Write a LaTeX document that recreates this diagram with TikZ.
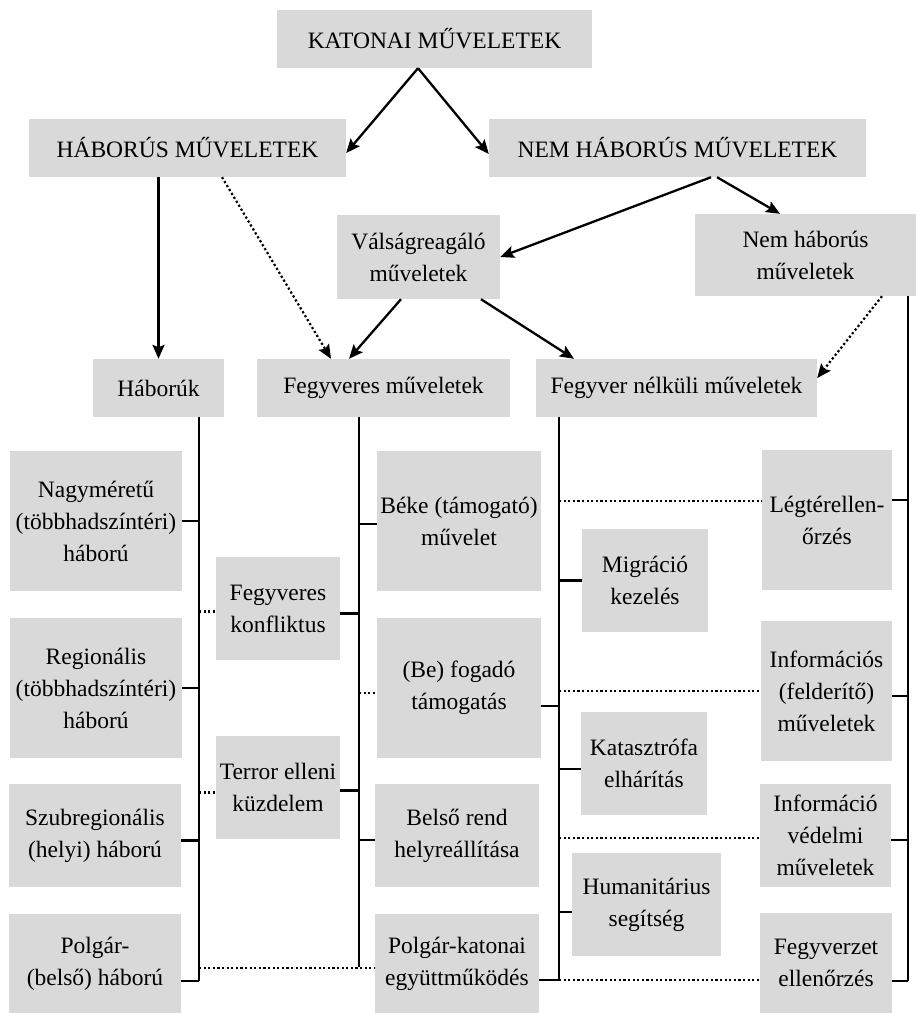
\documentclass[tikz,border=0pt]{standalone}
\usepackage{fontspec}
\setmainfont{Liberation Serif}
\usetikzlibrary{arrows.meta}
\definecolor{boxgray}{RGB}{217,217,217}
\tikzset{
  box/.style={fill=boxgray, draw=none, inner sep=0pt, align=center, text=black,
    font=\fontsize{23.5}{32}\selectfont},
  ln/.style={line width=2.3pt, black},
  dl/.style={line width=2.2pt, black, dash pattern=on 2.2pt off 2.4pt},
  arr/.style={-{Stealth[length=14pt,width=12pt,inset=2.5pt]}},
}
\begin{document}
\begin{tikzpicture}[x=1pt,y=-1pt]
\useasboundingbox (0,0) rectangle (916,1013);
% top levels
\node[box, minimum width=315, minimum height=58] (kat) at (434.5,39) {KATONAI MŰVELETEK};
\node[box, minimum width=317, minimum height=58] (hab) at (187.5,148) {HÁBORÚS MŰVELETEK};
\node[box, minimum width=377, minimum height=58] (nem) at (677.5,148) {NEM HÁBORÚS MŰVELETEK};
\node[box, minimum width=163, minimum height=84] (val) at (418.5,257) {Válságreagáló\\műveletek};
\node[box, minimum width=221, minimum height=82] (nhm) at (805.5,255) {Nem háborús\\műveletek};
\node[box, minimum width=131, minimum height=58] (hbk) at (158.5,388) {Háborúk};
\node[box, minimum width=253, minimum height=58] (fgm) at (383.5,388) {Fegyveres műveletek};
\node[box, minimum width=281, minimum height=58] (fnm) at (676.5,388) {Fegyver nélküli műveletek};
% left column
\node[box, minimum width=172, minimum height=140] (nagy) at (96,521) {Nagyméretű\\(többhadszíntéri)\\háború};
\node[box, minimum width=172, minimum height=140] (reg) at (96,688) {Regionális\\(többhadszíntéri)\\háború};
\node[box, minimum width=172, minimum height=103] (szub) at (95,835.5) {Szubregionális\\(helyi) háború};
\node[box, minimum width=172, minimum height=99] (polg) at (95,963.5) {Polgár-\\(belső) háború};
% second column
\node[box, minimum width=124, minimum height=103] (fk) at (278,608.5) {Fegyveres\\konfliktus};
\node[box, minimum width=124, minimum height=103] (tek) at (278,787.5) {Terror elleni\\küzdelem};
% third column
\node[box, minimum width=164, minimum height=140] (beke) at (459,521) {Béke (támogató)\\művelet};
\node[box, minimum width=164, minimum height=140] (befog) at (459,688) {(Be) fogadó\\támogatás};
\node[box, minimum width=164, minimum height=103] (belso) at (457,835.5) {Belső rend\\helyreállítása};
\node[box, minimum width=164, minimum height=99] (pk) at (457,963.5) {Polgár-katonai\\együttműködés};
% fourth column
\node[box, minimum width=126, minimum height=103] (mig) at (645,580.5) {Migráció\\kezelés};
\node[box, minimum width=126, minimum height=103] (kata) at (644,763.5) {Katasztrófa\\elhárítás};
\node[box, minimum width=149, minimum height=103] (hum) at (646.5,904.5) {Humanitárius\\segítség};
% right column
\node[box, minimum width=130, minimum height=140] (leg) at (827,520) {Légtérellen-\\őrzés};
\node[box, minimum width=131, minimum height=140] (inf) at (826.5,691) {Információs\\(felderítő)\\műveletek};
\node[box, minimum width=131, minimum height=103] (ivm) at (825.5,835.5) {Információ\\védelmi\\műveletek};
\node[box, minimum width=132, minimum height=100] (fe) at (826,963) {Fegyverzet\\ellenőrzés};

% arrows
\draw[ln,arr] ([xshift=-16.5pt]kat.south) -- ([yshift=-5pt]hab.east);
\draw[ln,arr] ([xshift=-16.5pt]kat.south) -- ([yshift=-6pt]nem.west);
\draw[ln,arr] (hbk.north |- hab.south) -- (hbk.north);
\draw[dl,arr] ([xshift=34.5pt]hab.south) -- ([xshift=-52.5pt]fgm.north);
\draw[ln,arr] ([xshift=33.5pt]nem.south) -- (val.east);
\draw[ln,arr] ([xshift=39.5pt]nem.south) -- ([xshift=-25.5pt]nhm.north);
\draw[ln,arr] ([xshift=-17.5pt]val.south) -- ([xshift=-34.5pt]fgm.north);
\draw[ln,arr] ([xshift=62.5pt]val.south) -- ([xshift=-102.5pt]fnm.north);
\draw[dl,arr] ([xshift=76.5pt]nhm.south) -- ([yshift=10pt]fnm.east);

% trunks
\coordinate (t1) at (199,981);
\coordinate (t2) at (359,967);
\coordinate (t3) at (559,980);
\coordinate (t4) at (908,981);
\draw[ln] (hbk.south -| t1) -- (t1);
\draw[ln] (fgm.south -| t2) -- (t2);
\draw[ln] (fnm.south -| t3) -- (t3);
\draw[ln] (nhm.south -| t4) -- (t4);

% tree 1
\draw[ln] (nagy.east) -- (nagy.east -| t1);
\draw[ln] (reg.east) -- (reg.east -| t1);
\draw[ln] ([yshift=-5pt]szub.east) -- ([yshift=-5pt]szub.east -| t1);
\draw[ln] (t1 -| polg.east) -- (t1);
\draw[dl] ([yshift=-3pt]fk.west -| t1) -- ([yshift=-3pt]fk.west);
\draw[dl] ([yshift=-5pt]tek.west -| t1) -- ([yshift=-5pt]tek.west);
\draw[dl] ([yshift=-4.5pt]pk.west -| t1) -- ([yshift=-4.5pt]pk.west);
% tree 2
\draw[ln] ([yshift=-5pt]fk.east) -- ([yshift=-5pt]fk.east -| t2);
\draw[ln] ([yshift=-3pt]tek.east) -- ([yshift=-3pt]tek.east -| t2);
\draw[ln] ([yshift=-3pt]beke.west -| t2) -- ([yshift=-3pt]beke.west);
\draw[dl] ([yshift=-5pt]befog.west -| t2) -- ([yshift=-5pt]befog.west);
\draw[ln] ([yshift=-4.5pt]belso.west -| t2) -- ([yshift=-4.5pt]belso.west);
% tree 3
\draw[ln] ([yshift=-18pt]befog.east) -- ([yshift=-18pt]befog.east -| t3);
\draw[ln] (t3 -| pk.east) -- (t3);
\draw[ln] (mig.west -| t3) -- (mig.west);
\draw[ln] ([yshift=-5.5pt]kata.west -| t3) -- ([yshift=-5.5pt]kata.west);
\draw[ln] ([yshift=-7.5pt]hum.west -| t3) -- ([yshift=-7.5pt]hum.west);
\draw[dl] ([yshift=19pt]leg.west -| t3) -- ([yshift=19pt]leg.west);
\draw[dl] (inf.west -| t3) -- (inf.west);
\draw[dl] ([yshift=-2.5pt]ivm.west -| t3) -- ([yshift=-2.5pt]ivm.west);
\draw[dl] (t3) -- (t3 -| fe.west);
% tree 4
\draw[ln] ([yshift=20pt]leg.east) -- ([yshift=20pt]leg.east -| t4);
\draw[ln] ([yshift=-5pt]inf.east) -- ([yshift=-5pt]inf.east -| t4);
\draw[ln] ([yshift=-4.5pt]ivm.east) -- ([yshift=-4.5pt]ivm.east -| t4);
\draw[ln] (t4 -| fe.east) -- (t4);
\end{tikzpicture}
\end{document}
